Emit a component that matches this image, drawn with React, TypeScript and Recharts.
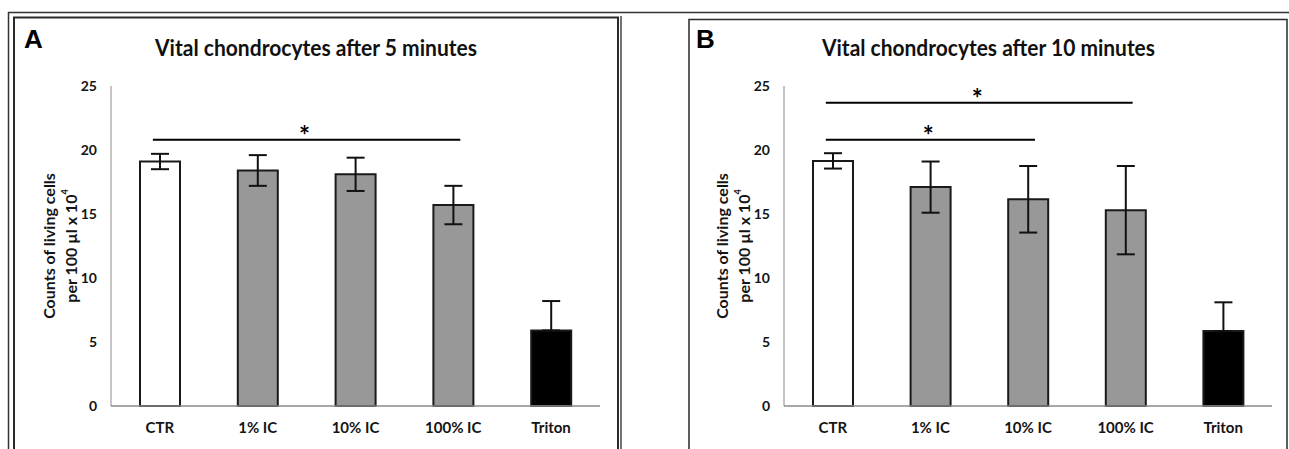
import { BarChart, Bar, XAxis, YAxis, Cell, ErrorBar, ReferenceLine, Label } from "recharts";

const categories = ["CTR", "1% IC", "10% IC", "100% IC", "Triton"];
const vitalFiveMin = [19.1, 18.4, 18.1, 15.7, 5.9];
const errFiveMin = [0.6, 1.2, 1.3, 1.5, 2.3];
const vitalTenMin = [19.15, 17.1, 16.15, 15.3, 5.85];
const errTenMin = [0.6, 2.0, 2.6, 3.45, 2.25];
// only the upper whisker is visible on the Triton bar
const showLowerErr = [true, true, true, true, false];
const yTicks = [0, 5, 10, 15, 20, 25];

const sigFiveMin = [{ from: "CTR", to: "100% IC", y: 20.8 }];
const sigTenMin = [
  { from: "CTR", to: "100% IC", y: 23.7 },
  { from: "CTR", to: "10% IC", y: 20.8 },
];

const BAR_FILLS = ["#ffffff", "#989898", "#989898", "#989898", "#000000"];
const FONT = 'Lato, "Open Sans", sans-serif';
const INK = "#141414";
const AXIS = "#8a8a8a";

const SigShape = (props: any) => {
  const { x1, y1, x2 } = props;
  return (
    <g>
      <line x1={x1 - 7} y1={y1} x2={x2 + 7} y2={y1} stroke="#000" strokeWidth={2} />
      <text x={(x1 + x2) / 2 - 2} y={y1 + 5} textAnchor="middle" fontSize={26} fontWeight={700} fontFamily={FONT} fill="#000">
        *
      </text>
    </g>
  );
};

const YLabel = (props: any) => {
  const { x, y, width, height } = props.viewBox;
  const right = x + width;
  const cy = y + height / 2;
  return (
    <g fontFamily={FONT} fontWeight={700} fontSize={16} fill={INK}>
      <text x={right - 63} y={cy} textAnchor="middle" dominantBaseline="central" transform={`rotate(-90 ${right - 63} ${cy})`}>
        Counts of living cells
      </text>
      <text x={right - 41} y={cy} textAnchor="middle" dominantBaseline="central" transform={`rotate(-90 ${right - 41} ${cy})`}>
        per 100 µl x 10<tspan fontSize={9} dy={-6}>4</tspan>
      </text>
    </g>
  );
};

interface PanelProps {
  values: number[];
  errors: number[];
  sig: { from: string; to: string; y: number }[];
  width: number;
  right: number;
}

function Panel({ values, errors, sig, width, right }: PanelProps) {
  const data = categories.map((name, i) => ({
    name,
    value: values[i],
    err: [showLowerErr[i] ? errors[i] : 0, errors[i]],
  }));
  return (
    <BarChart width={width} height={449} data={data} margin={{ top: 86, right, left: 0, bottom: 13 }}>
      <XAxis
        dataKey="name"
        height={30}
        axisLine={{ stroke: AXIS, strokeWidth: 1.5 }}
        tickLine={false}
        tickMargin={10}
        tick={{ fontSize: 15, fontWeight: 700, fill: INK, fontFamily: FONT }}
      />
      <YAxis
        width={111}
        domain={[0, 25]}
        ticks={yTicks}
        interval={0}
        axisLine={{ stroke: AXIS, strokeWidth: 1 }}
        tickLine={false}
        tickMargin={8}
        tick={{ fontSize: 14, fontWeight: 700, fill: INK, fontFamily: FONT }}
      >
        <Label content={YLabel} />
      </YAxis>
      <Bar dataKey="value" barSize={40} stroke="#1a1a1a" strokeWidth={2} isAnimationActive={false}>
        {data.map((_, i) => (
          <Cell key={`c-${i}`} fill={BAR_FILLS[i]} />
        ))}
        <ErrorBar dataKey="err" width={9} strokeWidth={2} stroke="#111" direction="y" />
      </Bar>
      {sig.map((s, i) => (
        <ReferenceLine
          key={`s-${i}`}
          segment={[{ x: s.from, y: s.y }, { x: s.to, y: s.y }]}
          shape={SigShape}
        />
      ))}
    </BarChart>
  );
}

export default function App() {
  return (
    <div style={{ position: "absolute", left: 0, top: 0, width: 1289, height: 449, background: "#fff", overflow: "hidden" }}>
      <svg width={1289} height={449} style={{ position: "absolute", left: 0, top: 0 }}>
        <line x1={8} y1={12.5} x2={1289} y2={12.5} stroke="#333" strokeWidth={1.5} />
        <line x1={8.5} y1={12} x2={8.5} y2={449} stroke="#333" strokeWidth={1.5} />
        <rect x={14} y={17.5} width={604} height={440} fill="none" stroke="#2a2a2a" strokeWidth={2} />
        <line x1={621} y1={16} x2={621} y2={449} stroke="#444" strokeWidth={1.5} />
        <rect x={689} y={19.5} width={598} height={440} fill="none" stroke="#2a2a2a" strokeWidth={1.5} />
        <text x={24} y={48} fontSize={26} fontWeight={700} fontFamily='"Liberation Sans", Arial, sans-serif' fill="#000">A</text>
        <text x={696} y={48} fontSize={26} fontWeight={700} fontFamily='"Liberation Sans", Arial, sans-serif' fill="#000">B</text>
        <text x={155} y={56} fontSize={23} fontWeight={700} fontFamily={FONT} fill="#111" textLength={322} lengthAdjust="spacingAndGlyphs">
          Vital chondrocytes after 5 minutes
        </text>
        <text x={822} y={56} fontSize={23} fontWeight={700} fontFamily={FONT} fill="#111" textLength={333} lengthAdjust="spacingAndGlyphs">
          Vital chondrocytes after 10 minutes
        </text>
      </svg>
      <div style={{ position: "absolute", left: 0, top: 0 }}>
        <Panel values={vitalFiveMin} errors={errFiveMin} sig={sigFiveMin} width={620} right={20} />
      </div>
      <div style={{ position: "absolute", left: 673, top: 0 }}>
        <Panel values={vitalTenMin} errors={errTenMin} sig={sigTenMin} width={616} right={17} />
      </div>
    </div>
  );
}
